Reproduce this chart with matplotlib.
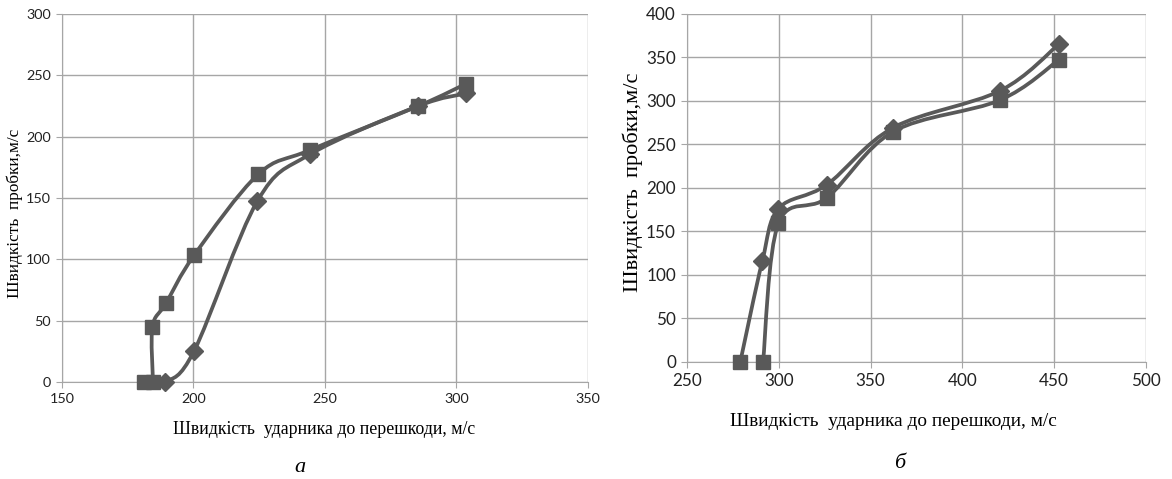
import numpy as np
import matplotlib
matplotlib.use("Agg")
import matplotlib.pyplot as plt
from matplotlib.path import Path
from matplotlib.patches import PathPatch

# chart а
a_diam_x = [181, 189.3, 200.3, 224.3, 244.2, 285.5, 303.5]
a_diam_y = [0, 0, 25.6, 147.5, 185.5, 225, 235.2]
a_sq_x = [184.6, 184.4, 189.5, 200.3, 224.6, 244.2, 285.5, 303.5]
a_sq_y = [0, 45, 64, 103.5, 169.3, 189, 225, 243]

# chart б
b_diam_x = [279, 291, 299.8, 326, 362.4, 420.5, 452.6]
b_diam_y = [0, 116, 176.2, 203.5, 269.5, 311.7, 365.4]
b_sq_x = [291.4, 299.8, 326.3, 362.4, 420.5, 452.6]
b_sq_y = [0, 159.3, 188.9, 264.9, 301, 347.4]

a_xticks = [150, 200, 250, 300, 350]
a_yticks = [0, 50, 100, 150, 200, 250, 300]
b_xticks = [250, 300, 350, 400, 450, 500]
b_yticks = [0, 50, 100, 150, 200, 250, 300, 350, 400]

xlabel = "Швидкість  ударника до перешкоди, м/с"
ylabel = "Швидкість  пробки,м/с"

LINE = "#595959"
GRID = "#a6a6a6"


def smooth(ax, xs, ys):
    # excel-like smoothed line: cubic bezier segments through the points
    p = np.column_stack([xs, ys]).astype(float)
    n = len(p)
    verts = [p[0]]
    codes = [Path.MOVETO]
    for i in range(n - 1):
        p0 = p[i - 1] if i > 0 else p[i]
        p3 = p[i + 2] if i + 2 < n else p[i + 1]
        c1 = p[i] + (p[i + 1] - p0) / 6
        c2 = p[i + 1] - (p3 - p[i]) / 6
        verts += [c1, c2, p[i + 1]]
        codes += [Path.CURVE4] * 3
    ax.add_patch(PathPatch(Path(verts, codes), fill=False, ec=LINE, lw=2.7,
                           capstyle="round", joinstyle="round", zorder=3))


def setup(ax, xt, yt, tick_fs, xl_fs, yl_fs):
    ax.set_xlim(xt[0], xt[-1])
    ax.set_ylim(yt[0], yt[-1])
    ax.set_xticks(xt)
    ax.set_yticks(yt)
    ax.grid(True, color=GRID, lw=1)
    ax.set_axisbelow(True)
    for s in ["top", "right"]:
        ax.spines[s].set_visible(False)
    for s in ["left", "bottom"]:
        ax.spines[s].set_color(GRID)
    ax.tick_params(length=4.5, color=GRID, labelsize=tick_fs, labelcolor="#222222")
    for lab in ax.get_xticklabels() + ax.get_yticklabels():
        lab.set_family("Lato")
    ax.set_xlabel(xlabel, family="Liberation Serif", fontsize=xl_fs, va="center")
    ax.set_ylabel(ylabel, family="Liberation Serif", fontsize=yl_fs, va="center")


fig = plt.figure(figsize=(11.72, 4.79), dpi=100)
ax1 = fig.add_axes([0.0529, 0.2025, 0.4488, 0.7683])
ax2 = fig.add_axes([0.5862, 0.2443, 0.3916, 0.7265])

for ax, dx, dy, sx, sy, xt, yt, fs in [
    (ax1, a_diam_x, a_diam_y, a_sq_x, a_sq_y, a_xticks, a_yticks, (10.4, 12.8, 12.4)),
    (ax2, b_diam_x, b_diam_y, b_sq_x, b_sq_y, b_xticks, b_yticks, (12.3, 13.9, 16.1)),
]:
    setup(ax, xt, yt, *fs)
    smooth(ax, dx, dy)
    smooth(ax, sx, sy)
    ax.plot(dx[1:], dy[1:], ls="none", marker="D", ms=9, color=LINE, zorder=4, clip_on=False)
    ax.plot(dx[:1], dy[:1], ls="none", marker="s", ms=10, color=LINE, zorder=4, clip_on=False)
    ax.plot(sx, sy, ls="none", marker="s", ms=10, color=LINE, zorder=5, clip_on=False)

ax1.xaxis.set_label_coords(0.498, -0.130)
ax1.yaxis.set_label_coords(-0.089, 0.459)
ax2.xaxis.set_label_coords(0.449, -0.172)
ax2.yaxis.set_label_coords(-0.118, 0.517)

fig.text(0.256, 0.025, "а", family="Liberation Serif", style="italic", fontsize=16,
         ha="center", va="center")
fig.text(0.768, 0.033, "б", family="Liberation Serif", style="italic", fontsize=16,
         ha="center", va="center")

fig.savefig("out.png", dpi=100)
